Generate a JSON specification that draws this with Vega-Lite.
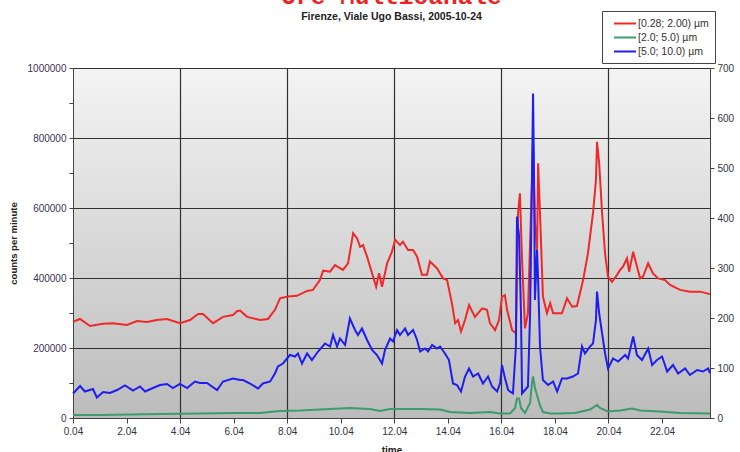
{
  "$schema": "https://vega.github.io/schema/vega-lite/v6.json",
  "width": 637,
  "height": 350,
  "autosize": {"type": "none"},
  "padding": {"left": 73, "top": 68, "right": 30, "bottom": 34},
  "background": "white",
  "config": {"font": "Liberation Sans"},
  "title": {
    "text": "Ore Multicanale",
    "subtitle": "Firenze, Viale Ugo Bassi, 2005-10-24",
    "anchor": "middle",
    "frame": "group",
    "font": "Liberation Mono",
    "fontSize": 24.5,
    "fontWeight": "bold",
    "color": "#ee2222",
    "subtitleFont": "Liberation Sans",
    "subtitleFontSize": 10.5,
    "subtitleFontWeight": "bold",
    "subtitleColor": "#222222",
    "offset": -13,
    "subtitlePadding": 3
  },
  "view": {
    "stroke": null,
    "fill": {
      "gradient": "linear",
      "x1": 0, "y1": 0, "x2": 0, "y2": 1,
      "stops": [
        {"offset": 0, "color": "#f4f4f4"},
        {"offset": 1, "color": "#bcbcbc"}
      ]
    }
  },
  "datasets": {
    "pm": [
      {"s": "[0.28; 2.00) µm", "h": 0.07, "v": 275000},
      {"s": "[0.28; 2.00) µm", "h": 0.33, "v": 283000},
      {"s": "[0.28; 2.00) µm", "h": 0.70, "v": 263000},
      {"s": "[0.28; 2.00) µm", "h": 1.19, "v": 269000},
      {"s": "[0.28; 2.00) µm", "h": 1.56, "v": 271000},
      {"s": "[0.28; 2.00) µm", "h": 2.08, "v": 266000},
      {"s": "[0.28; 2.00) µm", "h": 2.46, "v": 277000},
      {"s": "[0.28; 2.00) µm", "h": 2.83, "v": 274000},
      {"s": "[0.28; 2.00) µm", "h": 3.20, "v": 280000},
      {"s": "[0.28; 2.00) µm", "h": 3.58, "v": 283000},
      {"s": "[0.28; 2.00) µm", "h": 4.06, "v": 271000},
      {"s": "[0.28; 2.00) µm", "h": 4.44, "v": 280000},
      {"s": "[0.28; 2.00) µm", "h": 4.74, "v": 297000},
      {"s": "[0.28; 2.00) µm", "h": 4.92, "v": 297000},
      {"s": "[0.28; 2.00) µm", "h": 5.30, "v": 271000},
      {"s": "[0.28; 2.00) µm", "h": 5.67, "v": 289000},
      {"s": "[0.28; 2.00) µm", "h": 6.04, "v": 294000},
      {"s": "[0.28; 2.00) µm", "h": 6.19, "v": 305000},
      {"s": "[0.28; 2.00) µm", "h": 6.31, "v": 307000},
      {"s": "[0.28; 2.00) µm", "h": 6.57, "v": 289000},
      {"s": "[0.28; 2.00) µm", "h": 7.05, "v": 280000},
      {"s": "[0.28; 2.00) µm", "h": 7.35, "v": 283000},
      {"s": "[0.28; 2.00) µm", "h": 7.61, "v": 309000},
      {"s": "[0.28; 2.00) µm", "h": 7.80, "v": 342000},
      {"s": "[0.28; 2.00) µm", "h": 8.10, "v": 347000},
      {"s": "[0.28; 2.00) µm", "h": 8.43, "v": 349000},
      {"s": "[0.28; 2.00) µm", "h": 8.81, "v": 363000},
      {"s": "[0.28; 2.00) µm", "h": 9.03, "v": 366000},
      {"s": "[0.28; 2.00) µm", "h": 9.29, "v": 394000},
      {"s": "[0.28; 2.00) µm", "h": 9.41, "v": 421000},
      {"s": "[0.28; 2.00) µm", "h": 9.67, "v": 418000},
      {"s": "[0.28; 2.00) µm", "h": 9.85, "v": 437000},
      {"s": "[0.28; 2.00) µm", "h": 10.15, "v": 423000},
      {"s": "[0.28; 2.00) µm", "h": 10.34, "v": 442000},
      {"s": "[0.28; 2.00) µm", "h": 10.53, "v": 528000},
      {"s": "[0.28; 2.00) µm", "h": 10.68, "v": 513000},
      {"s": "[0.28; 2.00) µm", "h": 10.79, "v": 489000},
      {"s": "[0.28; 2.00) µm", "h": 10.90, "v": 494000},
      {"s": "[0.28; 2.00) µm", "h": 11.05, "v": 461000},
      {"s": "[0.28; 2.00) µm", "h": 11.24, "v": 413000},
      {"s": "[0.28; 2.00) µm", "h": 11.39, "v": 375000},
      {"s": "[0.28; 2.00) µm", "h": 11.50, "v": 414000},
      {"s": "[0.28; 2.00) µm", "h": 11.61, "v": 375000},
      {"s": "[0.28; 2.00) µm", "h": 11.80, "v": 442000},
      {"s": "[0.28; 2.00) µm", "h": 11.98, "v": 475000},
      {"s": "[0.28; 2.00) µm", "h": 12.10, "v": 509000},
      {"s": "[0.28; 2.00) µm", "h": 12.28, "v": 494000},
      {"s": "[0.28; 2.00) µm", "h": 12.39, "v": 504000},
      {"s": "[0.28; 2.00) µm", "h": 12.58, "v": 480000},
      {"s": "[0.28; 2.00) µm", "h": 12.77, "v": 480000},
      {"s": "[0.28; 2.00) µm", "h": 12.92, "v": 461000},
      {"s": "[0.28; 2.00) µm", "h": 13.10, "v": 409000},
      {"s": "[0.28; 2.00) µm", "h": 13.29, "v": 409000},
      {"s": "[0.28; 2.00) µm", "h": 13.40, "v": 447000},
      {"s": "[0.28; 2.00) µm", "h": 13.66, "v": 428000},
      {"s": "[0.28; 2.00) µm", "h": 13.89, "v": 399000},
      {"s": "[0.28; 2.00) µm", "h": 14.04, "v": 394000},
      {"s": "[0.28; 2.00) µm", "h": 14.22, "v": 328000},
      {"s": "[0.28; 2.00) µm", "h": 14.34, "v": 271000},
      {"s": "[0.28; 2.00) µm", "h": 14.45, "v": 280000},
      {"s": "[0.28; 2.00) µm", "h": 14.56, "v": 247000},
      {"s": "[0.28; 2.00) µm", "h": 14.71, "v": 280000},
      {"s": "[0.28; 2.00) µm", "h": 14.86, "v": 323000},
      {"s": "[0.28; 2.00) µm", "h": 15.08, "v": 289000},
      {"s": "[0.28; 2.00) µm", "h": 15.35, "v": 313000},
      {"s": "[0.28; 2.00) µm", "h": 15.53, "v": 309000},
      {"s": "[0.28; 2.00) µm", "h": 15.64, "v": 271000},
      {"s": "[0.28; 2.00) µm", "h": 15.83, "v": 251000},
      {"s": "[0.28; 2.00) µm", "h": 15.98, "v": 280000},
      {"s": "[0.28; 2.00) µm", "h": 16.09, "v": 347000},
      {"s": "[0.28; 2.00) µm", "h": 16.20, "v": 351000},
      {"s": "[0.28; 2.00) µm", "h": 16.28, "v": 309000},
      {"s": "[0.28; 2.00) µm", "h": 16.47, "v": 251000},
      {"s": "[0.28; 2.00) µm", "h": 16.61, "v": 242000},
      {"s": "[0.28; 2.00) µm", "h": 16.69, "v": 585000},
      {"s": "[0.28; 2.00) µm", "h": 16.76, "v": 642000},
      {"s": "[0.28; 2.00) µm", "h": 16.84, "v": 451000},
      {"s": "[0.28; 2.00) µm", "h": 16.95, "v": 256000},
      {"s": "[0.28; 2.00) µm", "h": 17.06, "v": 299000},
      {"s": "[0.28; 2.00) µm", "h": 17.21, "v": 680000},
      {"s": "[0.28; 2.00) µm", "h": 17.25, "v": 785000},
      {"s": "[0.28; 2.00) µm", "h": 17.32, "v": 560000},
      {"s": "[0.28; 2.00) µm", "h": 17.40, "v": 480000},
      {"s": "[0.28; 2.00) µm", "h": 17.44, "v": 728000},
      {"s": "[0.28; 2.00) µm", "h": 17.51, "v": 585000},
      {"s": "[0.28; 2.00) µm", "h": 17.62, "v": 347000},
      {"s": "[0.28; 2.00) µm", "h": 17.77, "v": 299000},
      {"s": "[0.28; 2.00) µm", "h": 17.89, "v": 328000},
      {"s": "[0.28; 2.00) µm", "h": 18.00, "v": 299000},
      {"s": "[0.28; 2.00) µm", "h": 18.33, "v": 299000},
      {"s": "[0.28; 2.00) µm", "h": 18.52, "v": 342000},
      {"s": "[0.28; 2.00) µm", "h": 18.71, "v": 318000},
      {"s": "[0.28; 2.00) µm", "h": 18.89, "v": 320000},
      {"s": "[0.28; 2.00) µm", "h": 19.12, "v": 394000},
      {"s": "[0.28; 2.00) µm", "h": 19.30, "v": 470000},
      {"s": "[0.28; 2.00) µm", "h": 19.49, "v": 585000},
      {"s": "[0.28; 2.00) µm", "h": 19.60, "v": 680000},
      {"s": "[0.28; 2.00) µm", "h": 19.64, "v": 789000},
      {"s": "[0.28; 2.00) µm", "h": 19.72, "v": 728000},
      {"s": "[0.28; 2.00) µm", "h": 19.83, "v": 585000},
      {"s": "[0.28; 2.00) µm", "h": 19.94, "v": 470000},
      {"s": "[0.28; 2.00) µm", "h": 20.05, "v": 404000},
      {"s": "[0.28; 2.00) µm", "h": 20.20, "v": 389000},
      {"s": "[0.28; 2.00) µm", "h": 20.39, "v": 409000},
      {"s": "[0.28; 2.00) µm", "h": 20.50, "v": 423000},
      {"s": "[0.28; 2.00) µm", "h": 20.61, "v": 432000},
      {"s": "[0.28; 2.00) µm", "h": 20.76, "v": 456000},
      {"s": "[0.28; 2.00) µm", "h": 20.84, "v": 418000},
      {"s": "[0.28; 2.00) µm", "h": 20.99, "v": 475000},
      {"s": "[0.28; 2.00) µm", "h": 21.10, "v": 442000},
      {"s": "[0.28; 2.00) µm", "h": 21.25, "v": 399000},
      {"s": "[0.28; 2.00) µm", "h": 21.36, "v": 404000},
      {"s": "[0.28; 2.00) µm", "h": 21.55, "v": 442000},
      {"s": "[0.28; 2.00) µm", "h": 21.73, "v": 413000},
      {"s": "[0.28; 2.00) µm", "h": 21.92, "v": 399000},
      {"s": "[0.28; 2.00) µm", "h": 22.18, "v": 394000},
      {"s": "[0.28; 2.00) µm", "h": 22.37, "v": 380000},
      {"s": "[0.28; 2.00) µm", "h": 22.74, "v": 366000},
      {"s": "[0.28; 2.00) µm", "h": 23.11, "v": 361000},
      {"s": "[0.28; 2.00) µm", "h": 23.49, "v": 361000},
      {"s": "[0.28; 2.00) µm", "h": 23.86, "v": 354000},

      {"s": "[2.0; 5.0) µm", "h": 0.07, "v": 6},
      {"s": "[2.0; 5.0) µm", "h": 1.08, "v": 6},
      {"s": "[2.0; 5.0) µm", "h": 2.20, "v": 7},
      {"s": "[2.0; 5.0) µm", "h": 3.32, "v": 8},
      {"s": "[2.0; 5.0) µm", "h": 4.81, "v": 9},
      {"s": "[2.0; 5.0) µm", "h": 6.31, "v": 10},
      {"s": "[2.0; 5.0) µm", "h": 7.05, "v": 10},
      {"s": "[2.0; 5.0) µm", "h": 7.80, "v": 14},
      {"s": "[2.0; 5.0) µm", "h": 8.55, "v": 15},
      {"s": "[2.0; 5.0) µm", "h": 9.67, "v": 18},
      {"s": "[2.0; 5.0) µm", "h": 10.41, "v": 20},
      {"s": "[2.0; 5.0) µm", "h": 11.16, "v": 18},
      {"s": "[2.0; 5.0) µm", "h": 11.53, "v": 14},
      {"s": "[2.0; 5.0) µm", "h": 11.91, "v": 18},
      {"s": "[2.0; 5.0) µm", "h": 13.03, "v": 18},
      {"s": "[2.0; 5.0) µm", "h": 13.78, "v": 17},
      {"s": "[2.0; 5.0) µm", "h": 14.15, "v": 12},
      {"s": "[2.0; 5.0) µm", "h": 14.90, "v": 10},
      {"s": "[2.0; 5.0) µm", "h": 15.64, "v": 12},
      {"s": "[2.0; 5.0) µm", "h": 16.02, "v": 9},
      {"s": "[2.0; 5.0) µm", "h": 16.39, "v": 9},
      {"s": "[2.0; 5.0) µm", "h": 16.58, "v": 20},
      {"s": "[2.0; 5.0) µm", "h": 16.65, "v": 39},
      {"s": "[2.0; 5.0) µm", "h": 16.73, "v": 39},
      {"s": "[2.0; 5.0) µm", "h": 16.80, "v": 20},
      {"s": "[2.0; 5.0) µm", "h": 16.95, "v": 10},
      {"s": "[2.0; 5.0) µm", "h": 17.14, "v": 30},
      {"s": "[2.0; 5.0) µm", "h": 17.21, "v": 70},
      {"s": "[2.0; 5.0) µm", "h": 17.25, "v": 83},
      {"s": "[2.0; 5.0) µm", "h": 17.32, "v": 60},
      {"s": "[2.0; 5.0) µm", "h": 17.40, "v": 46},
      {"s": "[2.0; 5.0) µm", "h": 17.51, "v": 25},
      {"s": "[2.0; 5.0) µm", "h": 17.62, "v": 12},
      {"s": "[2.0; 5.0) µm", "h": 17.89, "v": 9},
      {"s": "[2.0; 5.0) µm", "h": 18.26, "v": 9},
      {"s": "[2.0; 5.0) µm", "h": 18.82, "v": 10},
      {"s": "[2.0; 5.0) µm", "h": 19.38, "v": 17},
      {"s": "[2.0; 5.0) µm", "h": 19.64, "v": 26},
      {"s": "[2.0; 5.0) µm", "h": 19.75, "v": 20},
      {"s": "[2.0; 5.0) µm", "h": 20.05, "v": 13},
      {"s": "[2.0; 5.0) µm", "h": 20.50, "v": 15},
      {"s": "[2.0; 5.0) µm", "h": 20.95, "v": 19},
      {"s": "[2.0; 5.0) µm", "h": 21.25, "v": 15},
      {"s": "[2.0; 5.0) µm", "h": 21.99, "v": 13},
      {"s": "[2.0; 5.0) µm", "h": 22.74, "v": 10},
      {"s": "[2.0; 5.0) µm", "h": 23.86, "v": 9},

      {"s": "[5.0; 10.0) µm", "h": 0.07, "v": 49},
      {"s": "[5.0; 10.0) µm", "h": 0.33, "v": 64},
      {"s": "[5.0; 10.0) µm", "h": 0.51, "v": 53},
      {"s": "[5.0; 10.0) µm", "h": 0.81, "v": 58},
      {"s": "[5.0; 10.0) µm", "h": 0.96, "v": 41},
      {"s": "[5.0; 10.0) µm", "h": 1.19, "v": 52},
      {"s": "[5.0; 10.0) µm", "h": 1.45, "v": 50},
      {"s": "[5.0; 10.0) µm", "h": 1.71, "v": 56},
      {"s": "[5.0; 10.0) µm", "h": 2.01, "v": 65},
      {"s": "[5.0; 10.0) µm", "h": 2.31, "v": 55},
      {"s": "[5.0; 10.0) µm", "h": 2.57, "v": 63},
      {"s": "[5.0; 10.0) µm", "h": 2.76, "v": 53},
      {"s": "[5.0; 10.0) µm", "h": 3.05, "v": 60},
      {"s": "[5.0; 10.0) µm", "h": 3.32, "v": 66},
      {"s": "[5.0; 10.0) µm", "h": 3.58, "v": 68},
      {"s": "[5.0; 10.0) µm", "h": 3.80, "v": 60},
      {"s": "[5.0; 10.0) µm", "h": 4.06, "v": 68},
      {"s": "[5.0; 10.0) µm", "h": 4.33, "v": 60},
      {"s": "[5.0; 10.0) µm", "h": 4.62, "v": 73},
      {"s": "[5.0; 10.0) µm", "h": 4.81, "v": 70},
      {"s": "[5.0; 10.0) µm", "h": 5.07, "v": 70},
      {"s": "[5.0; 10.0) µm", "h": 5.45, "v": 56},
      {"s": "[5.0; 10.0) µm", "h": 5.67, "v": 73},
      {"s": "[5.0; 10.0) µm", "h": 6.04, "v": 79},
      {"s": "[5.0; 10.0) µm", "h": 6.31, "v": 76},
      {"s": "[5.0; 10.0) µm", "h": 6.42, "v": 76},
      {"s": "[5.0; 10.0) µm", "h": 6.68, "v": 69},
      {"s": "[5.0; 10.0) µm", "h": 6.98, "v": 59},
      {"s": "[5.0; 10.0) µm", "h": 7.16, "v": 69},
      {"s": "[5.0; 10.0) µm", "h": 7.43, "v": 73},
      {"s": "[5.0; 10.0) µm", "h": 7.61, "v": 89},
      {"s": "[5.0; 10.0) µm", "h": 7.72, "v": 103},
      {"s": "[5.0; 10.0) µm", "h": 7.91, "v": 109},
      {"s": "[5.0; 10.0) µm", "h": 8.17, "v": 126},
      {"s": "[5.0; 10.0) µm", "h": 8.36, "v": 123},
      {"s": "[5.0; 10.0) µm", "h": 8.47, "v": 129},
      {"s": "[5.0; 10.0) µm", "h": 8.62, "v": 109},
      {"s": "[5.0; 10.0) µm", "h": 8.81, "v": 129},
      {"s": "[5.0; 10.0) µm", "h": 8.99, "v": 116},
      {"s": "[5.0; 10.0) µm", "h": 9.22, "v": 133},
      {"s": "[5.0; 10.0) µm", "h": 9.48, "v": 149},
      {"s": "[5.0; 10.0) µm", "h": 9.67, "v": 143},
      {"s": "[5.0; 10.0) µm", "h": 9.78, "v": 166},
      {"s": "[5.0; 10.0) µm", "h": 9.93, "v": 143},
      {"s": "[5.0; 10.0) µm", "h": 10.04, "v": 159},
      {"s": "[5.0; 10.0) µm", "h": 10.23, "v": 146},
      {"s": "[5.0; 10.0) µm", "h": 10.41, "v": 199},
      {"s": "[5.0; 10.0) µm", "h": 10.60, "v": 176},
      {"s": "[5.0; 10.0) µm", "h": 10.71, "v": 166},
      {"s": "[5.0; 10.0) µm", "h": 10.86, "v": 179},
      {"s": "[5.0; 10.0) µm", "h": 11.05, "v": 156},
      {"s": "[5.0; 10.0) µm", "h": 11.24, "v": 136},
      {"s": "[5.0; 10.0) µm", "h": 11.42, "v": 126},
      {"s": "[5.0; 10.0) µm", "h": 11.61, "v": 109},
      {"s": "[5.0; 10.0) µm", "h": 11.72, "v": 136},
      {"s": "[5.0; 10.0) µm", "h": 11.91, "v": 159},
      {"s": "[5.0; 10.0) µm", "h": 12.02, "v": 153},
      {"s": "[5.0; 10.0) µm", "h": 12.17, "v": 176},
      {"s": "[5.0; 10.0) µm", "h": 12.28, "v": 166},
      {"s": "[5.0; 10.0) µm", "h": 12.47, "v": 179},
      {"s": "[5.0; 10.0) µm", "h": 12.58, "v": 166},
      {"s": "[5.0; 10.0) µm", "h": 12.77, "v": 176},
      {"s": "[5.0; 10.0) µm", "h": 12.92, "v": 156},
      {"s": "[5.0; 10.0) µm", "h": 13.03, "v": 133},
      {"s": "[5.0; 10.0) µm", "h": 13.22, "v": 139},
      {"s": "[5.0; 10.0) µm", "h": 13.33, "v": 133},
      {"s": "[5.0; 10.0) µm", "h": 13.48, "v": 146},
      {"s": "[5.0; 10.0) µm", "h": 13.66, "v": 139},
      {"s": "[5.0; 10.0) µm", "h": 13.78, "v": 143},
      {"s": "[5.0; 10.0) µm", "h": 13.96, "v": 129},
      {"s": "[5.0; 10.0) µm", "h": 14.11, "v": 116},
      {"s": "[5.0; 10.0) µm", "h": 14.26, "v": 69},
      {"s": "[5.0; 10.0) µm", "h": 14.41, "v": 66},
      {"s": "[5.0; 10.0) µm", "h": 14.56, "v": 53},
      {"s": "[5.0; 10.0) µm", "h": 14.71, "v": 83},
      {"s": "[5.0; 10.0) µm", "h": 14.86, "v": 99},
      {"s": "[5.0; 10.0) µm", "h": 15.01, "v": 83},
      {"s": "[5.0; 10.0) µm", "h": 15.20, "v": 89},
      {"s": "[5.0; 10.0) µm", "h": 15.38, "v": 69},
      {"s": "[5.0; 10.0) µm", "h": 15.57, "v": 83},
      {"s": "[5.0; 10.0) µm", "h": 15.72, "v": 63},
      {"s": "[5.0; 10.0) µm", "h": 15.91, "v": 53},
      {"s": "[5.0; 10.0) µm", "h": 16.02, "v": 70},
      {"s": "[5.0; 10.0) µm", "h": 16.09, "v": 106},
      {"s": "[5.0; 10.0) µm", "h": 16.20, "v": 80},
      {"s": "[5.0; 10.0) µm", "h": 16.32, "v": 56},
      {"s": "[5.0; 10.0) µm", "h": 16.39, "v": 53},
      {"s": "[5.0; 10.0) µm", "h": 16.50, "v": 49},
      {"s": "[5.0; 10.0) µm", "h": 16.61, "v": 143},
      {"s": "[5.0; 10.0) µm", "h": 16.65, "v": 403},
      {"s": "[5.0; 10.0) µm", "h": 16.73, "v": 363},
      {"s": "[5.0; 10.0) µm", "h": 16.80, "v": 209},
      {"s": "[5.0; 10.0) µm", "h": 16.84, "v": 49},
      {"s": "[5.0; 10.0) µm", "h": 16.95, "v": 56},
      {"s": "[5.0; 10.0) µm", "h": 17.06, "v": 63},
      {"s": "[5.0; 10.0) µm", "h": 17.14, "v": 209},
      {"s": "[5.0; 10.0) µm", "h": 17.21, "v": 476},
      {"s": "[5.0; 10.0) µm", "h": 17.25, "v": 649},
      {"s": "[5.0; 10.0) µm", "h": 17.29, "v": 476},
      {"s": "[5.0; 10.0) µm", "h": 17.32, "v": 236},
      {"s": "[5.0; 10.0) µm", "h": 17.40, "v": 336},
      {"s": "[5.0; 10.0) µm", "h": 17.44, "v": 276},
      {"s": "[5.0; 10.0) µm", "h": 17.51, "v": 143},
      {"s": "[5.0; 10.0) µm", "h": 17.62, "v": 76},
      {"s": "[5.0; 10.0) µm", "h": 17.81, "v": 66},
      {"s": "[5.0; 10.0) µm", "h": 18.00, "v": 73},
      {"s": "[5.0; 10.0) µm", "h": 18.15, "v": 53},
      {"s": "[5.0; 10.0) µm", "h": 18.33, "v": 79},
      {"s": "[5.0; 10.0) µm", "h": 18.52, "v": 79},
      {"s": "[5.0; 10.0) µm", "h": 18.74, "v": 83},
      {"s": "[5.0; 10.0) µm", "h": 18.93, "v": 89},
      {"s": "[5.0; 10.0) µm", "h": 19.08, "v": 143},
      {"s": "[5.0; 10.0) µm", "h": 19.19, "v": 129},
      {"s": "[5.0; 10.0) µm", "h": 19.38, "v": 143},
      {"s": "[5.0; 10.0) µm", "h": 19.49, "v": 149},
      {"s": "[5.0; 10.0) µm", "h": 19.60, "v": 196},
      {"s": "[5.0; 10.0) µm", "h": 19.64, "v": 253},
      {"s": "[5.0; 10.0) µm", "h": 19.72, "v": 209},
      {"s": "[5.0; 10.0) µm", "h": 19.83, "v": 169},
      {"s": "[5.0; 10.0) µm", "h": 19.94, "v": 129},
      {"s": "[5.0; 10.0) µm", "h": 20.05, "v": 99},
      {"s": "[5.0; 10.0) µm", "h": 20.24, "v": 119},
      {"s": "[5.0; 10.0) µm", "h": 20.43, "v": 113},
      {"s": "[5.0; 10.0) µm", "h": 20.69, "v": 126},
      {"s": "[5.0; 10.0) µm", "h": 20.80, "v": 119},
      {"s": "[5.0; 10.0) µm", "h": 20.99, "v": 163},
      {"s": "[5.0; 10.0) µm", "h": 21.13, "v": 126},
      {"s": "[5.0; 10.0) µm", "h": 21.32, "v": 116},
      {"s": "[5.0; 10.0) µm", "h": 21.55, "v": 139},
      {"s": "[5.0; 10.0) µm", "h": 21.70, "v": 106},
      {"s": "[5.0; 10.0) µm", "h": 21.88, "v": 116},
      {"s": "[5.0; 10.0) µm", "h": 22.07, "v": 123},
      {"s": "[5.0; 10.0) µm", "h": 22.26, "v": 93},
      {"s": "[5.0; 10.0) µm", "h": 22.48, "v": 106},
      {"s": "[5.0; 10.0) µm", "h": 22.67, "v": 89},
      {"s": "[5.0; 10.0) µm", "h": 22.93, "v": 99},
      {"s": "[5.0; 10.0) µm", "h": 23.11, "v": 86},
      {"s": "[5.0; 10.0) µm", "h": 23.38, "v": 96},
      {"s": "[5.0; 10.0) µm", "h": 23.60, "v": 93},
      {"s": "[5.0; 10.0) µm", "h": 23.79, "v": 99},
      {"s": "[5.0; 10.0) µm", "h": 23.86, "v": 90}
    ]
  },
  "data": {"name": "pm"},
  "layer": [
    {
      "transform": [{"filter": "datum.s === '[0.28; 2.00) µm'"}],
      "mark": {"type": "line", "strokeWidth": 2, "interpolate": "linear"},
      "encoding": {
        "x": {
          "field": "h", "type": "quantitative",
          "scale": {"domain": [0.0667, 23.86], "nice": false, "zero": false},
          "axis": {
            "values": [0.0667, 2.0667, 4.0667, 6.0667, 8.0667, 10.0667, 12.0667, 14.0667, 16.0667, 18.0667, 20.0667, 22.0667],
            "labelExpr": "timeFormat(datetime(2005, 9, 24, 0, round(datum.value * 60)), '%-H.%M')",
            "grid": false,
            "title": "time",
            "titleFontSize": 10,
            "titleFontWeight": "bold",
            "titleColor": "#222222",
            "titlePadding": 9,
            "labelFontSize": 10,
            "labelColor": "#333344",
            "labelPadding": 3,
            "labelFlush": false,
            "tickSize": 5,
            "tickColor": "#444444",
            "domainColor": "#444444"
          }
        },
        "y": {
          "field": "v", "type": "quantitative",
          "scale": {"domain": [0, 1000000], "nice": false},
          "axis": {
            "orient": "left",
            "values": [0, 100000, 200000, 300000, 400000, 500000, 600000, 700000, 800000, 900000, 1000000],
            "format": "d",
            "labelExpr": "datum.value % 200000 === 0 ? datum.label : ''",
            "grid": true,
            "gridColor": {"condition": {"test": "datum.value % 200000 === 0", "value": "#303030"}, "value": "transparent"},
            "gridWidth": 1.2,
            "title": "counts per minute",
            "titleFontSize": 9.5,
            "titleFontWeight": "bold",
            "titleColor": "#222222",
            "titlePadding": 9,
            "labelFontSize": 10,
            "labelColor": "#3b3355",
            "labelPadding": 3,
            "tickSize": 4,
            "tickColor": "#444444",
            "domainColor": "#444444"
          }
        },
        "color": {
          "field": "s", "type": "nominal",
          "scale": {
            "domain": ["[0.28; 2.00) µm", "[2.0; 5.0) µm", "[5.0; 10.0) µm"],
            "range": ["#f02828", "#3c9c6c", "#1e1ef0"]
          },
          "legend": {
            "orient": "none",
            "legendX": 529,
            "legendY": -57,
            "title": null,
            "symbolType": "M-1,0H3",
            "symbolStrokeWidth": 2,
            "symbolSize": 121,
            "symbolOffset": 5,
            "labelOffset": 12,
            "labelFontSize": 10.5,
            "labelColor": "#333333",
            "strokeColor": "#444444",
            "fillColor": "white",
            "padding": 6,
            "rowPadding": 2
          }
        }
      }
    },
    {
      "transform": [{"filter": "datum.s !== '[0.28; 2.00) µm'"}],
      "mark": {"type": "line", "strokeWidth": 2, "interpolate": "linear"},
      "encoding": {
        "x": {
          "field": "h", "type": "quantitative",
          "scale": {"domain": [0.0667, 23.86], "nice": false, "zero": false},
          "axis": {
            "values": [4.0667, 8.0667, 12.0667, 16.0667, 20.0667],
            "labels": false, "ticks": false, "domain": false, "title": null,
            "grid": true, "gridColor": "#303030", "gridWidth": 1.2
          }
        },
        "y": {
          "field": "v", "type": "quantitative",
          "scale": {"domain": [0, 700], "nice": false},
          "axis": {
            "orient": "right",
            "values": [0, 100, 200, 300, 400, 500, 600, 700],
            "grid": false,
            "title": null,
            "labelFontSize": 10,
            "labelColor": "#333344",
            "labelPadding": 3,
            "tickSize": 4,
            "tickColor": "#444444",
            "domainColor": "#444444"
          }
        },
        "color": {
          "field": "s", "type": "nominal",
          "scale": {
            "domain": ["[0.28; 2.00) µm", "[2.0; 5.0) µm", "[5.0; 10.0) µm"],
            "range": ["#f02828", "#3c9c6c", "#1e1ef0"]
          }
        }
      }
    }
  ],
  "resolve": {"scale": {"y": "independent"}, "axis": {"x": "independent"}}
}
